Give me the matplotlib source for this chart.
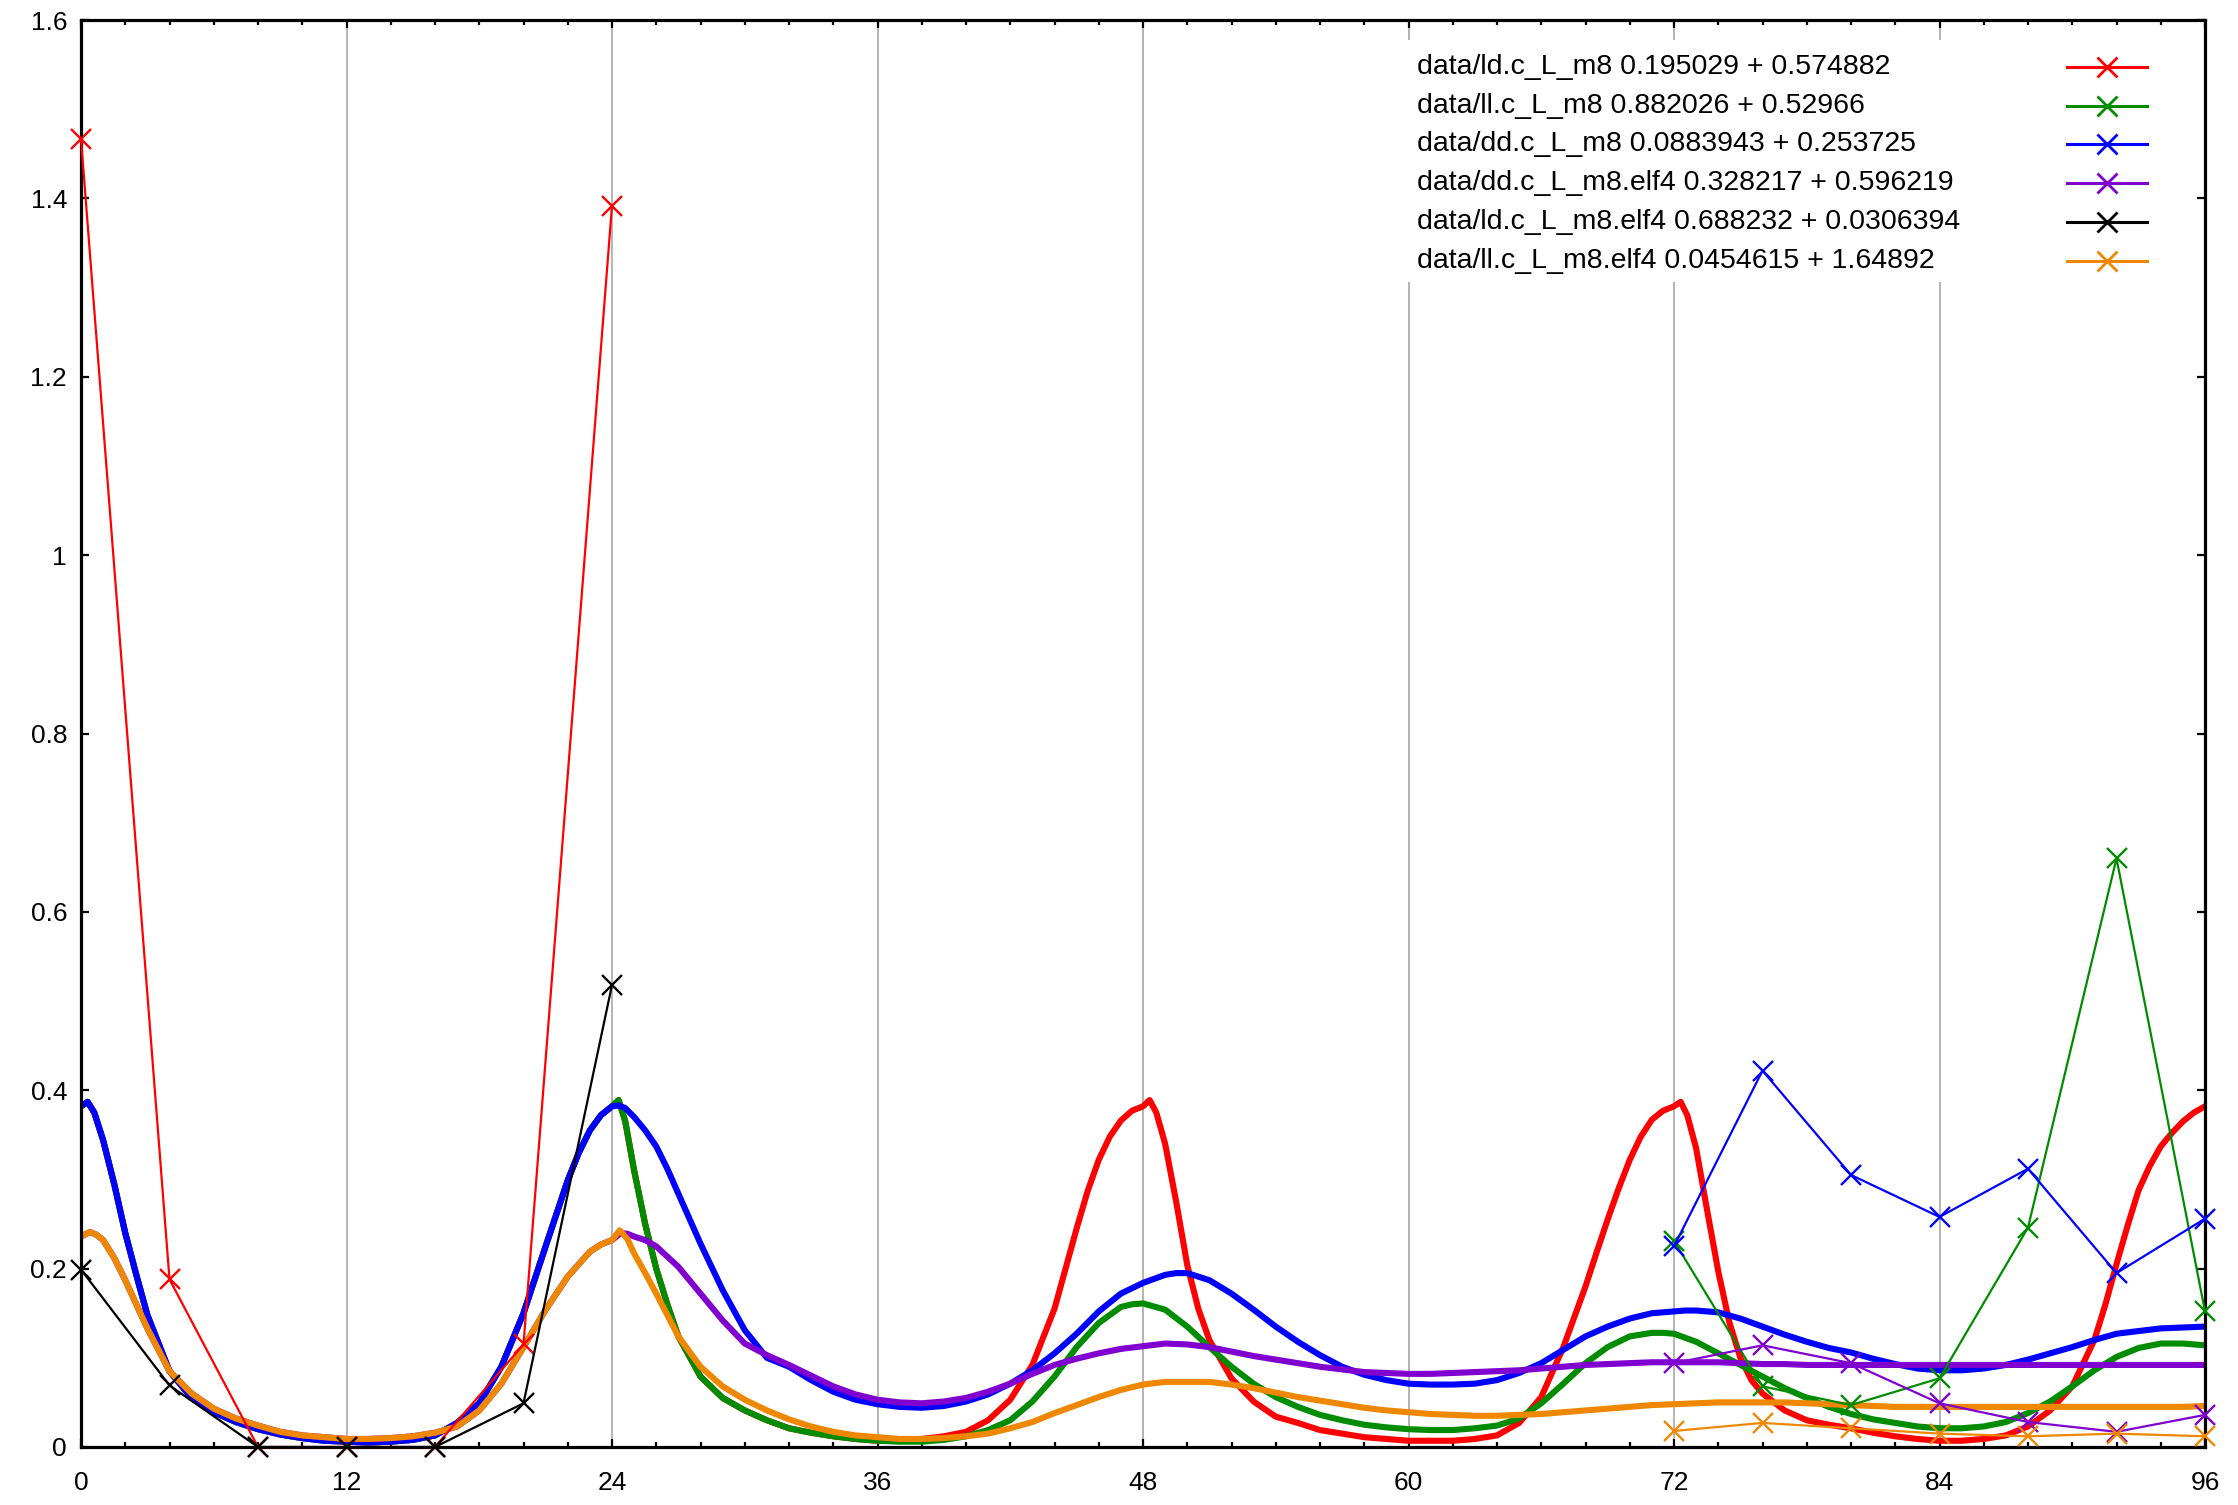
import matplotlib
matplotlib.use('Agg')
import matplotlib.pyplot as plt
from matplotlib.ticker import MultipleLocator, FormatStrFormatter
from matplotlib.lines import Line2D
from matplotlib.patches import Rectangle

plt.rcParams['font.family'] = ['Liberation Sans', 'DejaVu Sans']

# measured samples (hours)
early_hours = [0, 4, 8, 12, 16, 20, 24]
late_hours = [72, 76, 80, 84, 88, 92, 96]

ld_pts = [1.467, 0.188, 0.0, 0.0, 0.0, 0.115, 1.392]
ld_elf4_pts = [0.199, 0.069, 0.0, 0.0, 0.0, 0.049, 0.518]
ll_pts = [0.231, 0.068, 0.047, 0.077, 0.246, 0.660, 0.152]
dd_pts = [0.225, 0.422, 0.305, 0.258, 0.312, 0.195, 0.256]
dd_elf4_pts = [0.094, 0.114, 0.094, 0.049, 0.028, 0.017, 0.036]
ll_elf4_pts = [0.018, 0.027, 0.021, 0.015, 0.012, 0.015, 0.012]

# fitted curves at every full hour 0..96
fit_hours = list(range(97))

dd_fit = [0.382, 0.344, 0.240, 0.148, 0.085, 0.055, 0.039, 0.028, 0.020,
          0.014, 0.010, 0.007, 0.006, 0.005, 0.006, 0.008, 0.013, 0.027, 0.049,
          0.090, 0.150, 0.225, 0.299, 0.355, 0.382,
          0.370, 0.337, 0.284, 0.228, 0.176, 0.131, 0.100, 0.090, 0.075, 0.062,
          0.053, 0.048, 0.045, 0.044, 0.046, 0.051, 0.059, 0.071, 0.086, 0.105,
          0.127, 0.152, 0.172, 0.184,
          0.193, 0.195, 0.187, 0.172, 0.154, 0.135, 0.118, 0.103, 0.090, 0.081,
          0.075, 0.071, 0.070, 0.070, 0.071, 0.075, 0.083, 0.094, 0.109, 0.124,
          0.135, 0.144, 0.150, 0.152,
          0.153, 0.151, 0.144, 0.135, 0.126, 0.118, 0.111, 0.106, 0.099, 0.093,
          0.088, 0.086, 0.086, 0.088, 0.092, 0.098, 0.105, 0.112, 0.120, 0.127,
          0.130, 0.133, 0.134, 0.135]

ll_elf4_fit = [0.236, 0.232, 0.187, 0.133, 0.085, 0.060, 0.043, 0.032, 0.024,
               0.017, 0.013, 0.011, 0.009, 0.009, 0.010, 0.012, 0.016, 0.023, 0.041,
               0.071, 0.112, 0.154, 0.191, 0.219, 0.232,
               0.217, 0.172, 0.124, 0.090, 0.068, 0.053, 0.041, 0.031, 0.023, 0.017,
               0.013, 0.011, 0.009, 0.009, 0.010, 0.012, 0.015, 0.021, 0.028, 0.038,
               0.047, 0.056, 0.064, 0.070,
               0.073, 0.073, 0.073, 0.070, 0.066, 0.061, 0.056, 0.052, 0.048, 0.044,
               0.041, 0.039, 0.037, 0.036, 0.035, 0.035, 0.036, 0.037, 0.039, 0.041,
               0.043, 0.045, 0.047, 0.048,
               0.049, 0.050, 0.050, 0.050, 0.050, 0.049, 0.048, 0.047, 0.046, 0.045,
               0.045, 0.045, 0.045, 0.045, 0.045, 0.045, 0.045, 0.045, 0.045, 0.045,
               0.045, 0.045, 0.045, 0.046]

dd_elf4_fit = [0.236, 0.232, 0.187, 0.133, 0.085, 0.060, 0.043, 0.032, 0.024,
               0.017, 0.013, 0.011, 0.009, 0.009, 0.010, 0.012, 0.016, 0.023, 0.041,
               0.071, 0.112, 0.154, 0.191, 0.219, 0.232,
               0.236, 0.225, 0.202, 0.172, 0.142, 0.116, 0.103, 0.092, 0.080, 0.068,
               0.059, 0.053, 0.050, 0.049, 0.051, 0.055, 0.062, 0.071, 0.082, 0.092,
               0.099, 0.105, 0.110, 0.113,
               0.116, 0.115, 0.112, 0.107, 0.102, 0.098, 0.094, 0.090, 0.087, 0.084,
               0.083, 0.082, 0.082, 0.083, 0.084, 0.085, 0.086, 0.088, 0.090, 0.092,
               0.093, 0.094, 0.095, 0.095,
               0.095, 0.095, 0.094, 0.093, 0.093, 0.092, 0.092, 0.092, 0.092, 0.092,
               0.092, 0.092, 0.092, 0.092, 0.092, 0.092, 0.092, 0.092, 0.092, 0.092,
               0.092, 0.092, 0.092, 0.092]

ll_fit = [0.382, 0.344, 0.240, 0.148, 0.085, 0.055, 0.039, 0.028, 0.020,
          0.014, 0.010, 0.007, 0.006, 0.005, 0.006, 0.008, 0.013, 0.027, 0.049,
          0.090, 0.150, 0.225, 0.299, 0.355, 0.382,
          0.310, 0.200, 0.124, 0.079, 0.055, 0.041, 0.030, 0.021, 0.016, 0.012,
          0.009, 0.007, 0.006, 0.006, 0.008, 0.012, 0.019, 0.030, 0.051, 0.079,
          0.112, 0.139, 0.157, 0.161,
          0.154, 0.135, 0.112, 0.090, 0.071, 0.056, 0.045, 0.036, 0.030, 0.025,
          0.022, 0.020, 0.019, 0.019, 0.021, 0.024, 0.032, 0.049, 0.071, 0.094,
          0.112, 0.124, 0.128, 0.127,
          0.118, 0.105, 0.092, 0.079, 0.066, 0.055, 0.045, 0.037, 0.031, 0.027,
          0.023, 0.021, 0.021, 0.023, 0.028, 0.038, 0.051, 0.068, 0.086, 0.101,
          0.111, 0.116, 0.116, 0.114]

ld_fit = [0.382, 0.344, 0.240, 0.148, 0.085, 0.055, 0.039, 0.028, 0.020,
          0.014, 0.010, 0.007, 0.006, 0.005, 0.006, 0.008, 0.013, 0.027, 0.049,
          0.090, 0.150, 0.225, 0.299, 0.355, 0.382,
          0.310, 0.200, 0.124, 0.079, 0.055, 0.041, 0.030, 0.021, 0.016, 0.012,
          0.009, 0.007, 0.007, 0.009, 0.012, 0.017, 0.030, 0.053, 0.092, 0.155,
          0.245, 0.322, 0.366, 0.382,
          0.340, 0.204, 0.120, 0.077, 0.051, 0.034, 0.027, 0.019, 0.015, 0.011,
          0.009, 0.007, 0.007, 0.007, 0.009, 0.013, 0.027, 0.056, 0.112, 0.180,
          0.255, 0.322, 0.367, 0.382,
          0.335, 0.197, 0.100, 0.060, 0.041, 0.030, 0.025, 0.021, 0.016, 0.012,
          0.009, 0.007, 0.007, 0.009, 0.013, 0.023, 0.041, 0.068, 0.120, 0.205,
          0.288, 0.337, 0.365, 0.382]

# extra readings between the full hours (peaks and kinks)
dd_fit_extra = [(0.3, 0.387), (0.6, 0.375), (1.5, 0.295), (2.5, 0.193),
                (22.5, 0.330), (23.5, 0.372), (24.3, 0.383), (24.6, 0.380),
                (25.5, 0.355), (26.5, 0.312), (49.5, 0.195), (72.5, 0.153)]
ll_elf4_fit_extra = [(0.4, 0.241), (0.7, 0.238), (1.5, 0.212), (2.5, 0.160),
                     (23.5, 0.227), (24.35, 0.243), (24.7, 0.233), (25.5, 0.195),
                     (26.5, 0.148)]
dd_elf4_fit_extra = [(0.4, 0.241), (0.7, 0.238), (1.5, 0.212), (2.5, 0.160),
                     (23.5, 0.227), (24.4, 0.240), (24.7, 0.239), (25.5, 0.232)]
ll_fit_extra = [(0.3, 0.387), (0.6, 0.375), (1.5, 0.295), (2.5, 0.193),
                (22.5, 0.330), (23.5, 0.372), (24.3, 0.389), (24.6, 0.365),
                (25.5, 0.250), (26.5, 0.160), (47.5, 0.160), (71.5, 0.128)]
ld_fit_extra = [(0.3, 0.387), (0.6, 0.375), (1.5, 0.295), (2.5, 0.193),
                (22.5, 0.330), (23.5, 0.372), (24.3, 0.389), (24.6, 0.365),
                (25.5, 0.250), (26.5, 0.160),
                (44.5, 0.200), (45.5, 0.287), (46.5, 0.348), (47.5, 0.377),
                (48.3, 0.389), (48.6, 0.375), (49.5, 0.275), (50.5, 0.155),
                (68.5, 0.218), (69.5, 0.290), (70.5, 0.348), (71.5, 0.377),
                (72.3, 0.387), (72.6, 0.372), (73.5, 0.265), (74.5, 0.140),
                (75.5, 0.075), (91.5, 0.160), (92.5, 0.248), (93.5, 0.315),
                (94.5, 0.352), (95.5, 0.375)]

labels = ['data/ld.c_L_m8 0.195029 + 0.574882',
          'data/ll.c_L_m8 0.882026 + 0.52966',
          'data/dd.c_L_m8 0.0883943 + 0.253725',
          'data/dd.c_L_m8.elf4 0.328217 + 0.596219',
          'data/ld.c_L_m8.elf4 0.688232 + 0.0306394',
          'data/ll.c_L_m8.elf4 0.0454615 + 1.64892']
colors = ['#ff0000', '#008c00', '#0000ff', '#8000d0', '#000000', '#ef8800']

series = [
    (early_hours, ld_pts, ld_fit, ld_fit_extra),
    (late_hours, ll_pts, ll_fit, ll_fit_extra),
    (late_hours, dd_pts, dd_fit, dd_fit_extra),
    (late_hours, dd_elf4_pts, dd_elf4_fit, dd_elf4_fit_extra),
    (early_hours, ld_elf4_pts, None, None),
    (late_hours, ll_elf4_pts, ll_elf4_fit, ll_elf4_fit_extra),
]

W, H = 2238, 1505
fig = plt.figure(figsize=(W / 100, H / 100), dpi=100)
ax = fig.add_axes([81 / W, 1 - 1447 / H, 2124 / W, 1427 / H])

FS = 19
LEG_FS = 20.5

# fitted curves underneath the measured points
for (hx, pts, fit, extra), c in zip(series, colors):
    if fit is None:
        continue
    merged = sorted(list(zip(fit_hours, fit)) + extra)
    ax.plot([p[0] for p in merged], [p[1] for p in merged], color=c, lw=4.4,
            solid_joinstyle='round', solid_capstyle='round', zorder=2)

for (hx, pts, fit, extra), c in zip(series, colors):
    ax.plot(hx, pts, color=c, lw=1.6, marker='x', ms=14, mew=1.7,
            zorder=3, clip_on=False)

ax.set_xlim(0, 96)
ax.set_ylim(0, 1.6)
ax.xaxis.set_major_locator(MultipleLocator(12))
ax.xaxis.set_minor_locator(MultipleLocator(2))
ax.yaxis.set_major_locator(MultipleLocator(0.2))
ax.yaxis.set_major_formatter(FormatStrFormatter('%g'))
ax.grid(True, axis='x', which='major', color='#a0a0a0', lw=1.1)
ax.set_axisbelow(True)

ax.tick_params(which='both', direction='in', top=True, right=True,
               labelsize=FS, width=1.6, color='black')
ax.tick_params(which='major', length=6)
ax.tick_params(which='minor', length=3.6)
ax.tick_params(axis='x', pad=17)
ax.tick_params(axis='y', pad=10)
for sp in ax.spines.values():
    sp.set_linewidth(2.3)

# key box, gnuplot style: text left, sample line on the right
fig.add_artist(Rectangle((1400 / W, 1 - 282 / H), 760 / W, 242 / H,
                         transform=fig.transFigure, facecolor='white',
                         edgecolor='none', zorder=4))
for i, (lab, c) in enumerate(zip(labels, colors)):
    y = 1 - (67 + i * 38.7) / H
    fig.text(1417 / W, y, lab, fontsize=LEG_FS, va='center', ha='left', zorder=5)
    fig.add_artist(Line2D([2067 / W, 2147 / W], [y, y], transform=fig.transFigure,
                          color=c, lw=2.2, zorder=5))
    fig.add_artist(Line2D([2107 / W], [y], transform=fig.transFigure, color=c,
                          marker='x', ms=14, mew=2.0, lw=0, zorder=5))

fig.savefig('out.png', dpi=100)
